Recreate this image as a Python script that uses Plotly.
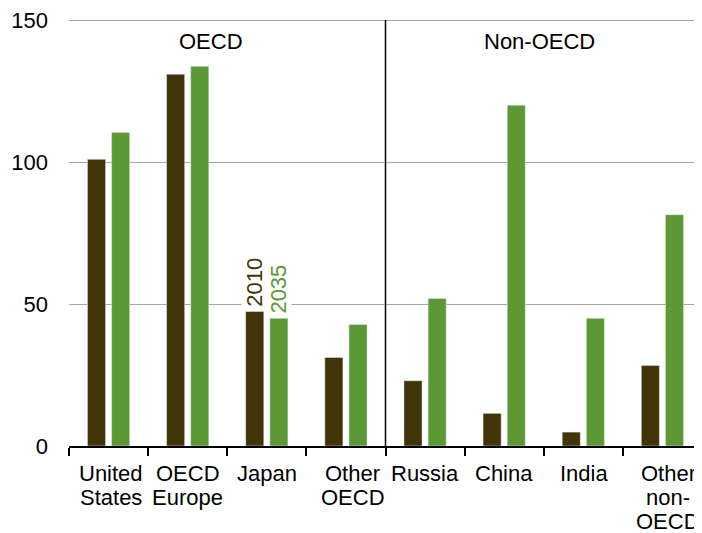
import plotly.graph_objects as go

categories = ["United States", "OECD Europe", "Japan", "Other OECD",
              "Russia", "China", "India", "Other non-OECD"]
category_lines = [["United", "States"], ["OECD", "Europe"], ["Japan"], ["Other", "OECD"],
                  ["Russia"], ["China"], ["India"], ["Other", "non-", "OECD"]]
values_2010 = [101, 131, 47.4, 31.2, 23, 11.5, 4.9, 28.4]
values_2035 = [110.5, 133.8, 45, 42.8, 52, 120.1, 45, 81.5]
series_names = ["2010", "2035"]
group_labels = ["OECD", "Non-OECD"]
y_ticks = [0, 50, 100, 150]

c2010 = "#413406"
c2035 = "#5c9934"
font = "Liberation Sans, Arial, sans-serif"
FS = 22
# small horizontal nudges of category labels (layout only)
label_nudge = [2, 0, 0, 7, 0, 0, 1, 6]

fig = go.Figure()
fig.add_bar(x=categories, y=values_2010, name=series_names[0], marker_color=c2010)
fig.add_bar(x=categories, y=values_2035, name=series_names[1], marker_color=c2035)

# page body has an 8px margin, so the figure is sized/offset to compensate
fig.update_layout(
    width=694, height=525,
    margin=dict(l=61, r=0, t=12, b=87),
    plot_bgcolor="white", paper_bgcolor="white",
    barmode="group", bargap=0.39, bargroupgap=0.25,
    showlegend=False,
    font=dict(family=font, size=FS, color="#000000"),
)
fig.update_xaxes(
    showline=True, linecolor="black", linewidth=1.5,
    ticks="outside", tickson="boundaries", ticklen=8, tickcolor="black", tickwidth=1.5,
    showgrid=False, showticklabels=False,
)
fig.update_yaxes(
    range=[0, 150.1], tickvals=y_ticks,
    showgrid=True, gridcolor="#a6a6a6", gridwidth=1.2,
    zeroline=False, showline=False, ticks="",
    ticklabelstandoff=20, ticklabeloverflow="allow", tickfont=dict(size=FS),
)
# top gridline (guaranteed)
fig.add_shape(type="line", xref="paper", yref="y", x0=0, x1=1, y0=y_ticks[-1], y1=y_ticks[-1],
              line=dict(color="#a6a6a6", width=1.2), layer="below")
# category labels, one annotation per line for tight line spacing
for i, lines in enumerate(category_lines):
    for k, line in enumerate(lines):
        fig.add_annotation(x=i, y=0, xref="x", yref="paper", yanchor="top",
                           xshift=label_nudge[i], yshift=-14 - 24 * k, text=line,
                           showarrow=False, borderpad=0, font=dict(size=FS))
# divider between OECD and non-OECD
fig.add_shape(type="line", xref="x", yref="paper", x0=3.5, x1=3.5, y0=0, y1=1,
              line=dict(color="black", width=1.5))
fig.add_annotation(x=1.3, y=1, xref="x", yref="paper", yanchor="middle", yshift=-21,
                   text=group_labels[0], showarrow=False, font=dict(size=FS))
fig.add_annotation(x=5.45, y=1, xref="x", yref="paper", yanchor="middle", yshift=-21,
                   text=group_labels[1], showarrow=False, font=dict(size=FS))
# series labels over Japan bars
fig.add_annotation(x=2, y=values_2010[2], xref="x", yref="y", xshift=-12, yshift=4,
                   text=series_names[0], textangle=-90, showarrow=False,
                   yanchor="bottom", bgcolor="white", borderpad=0,
                   font=dict(size=FS, color=c2010))
fig.add_annotation(x=2, y=values_2035[2], xref="x", yref="y", xshift=12, yshift=4,
                   text=series_names[1], textangle=-90, showarrow=False,
                   yanchor="bottom", bgcolor="white", borderpad=0,
                   font=dict(size=FS, color=c2035))

fig.write_html("out.html")
